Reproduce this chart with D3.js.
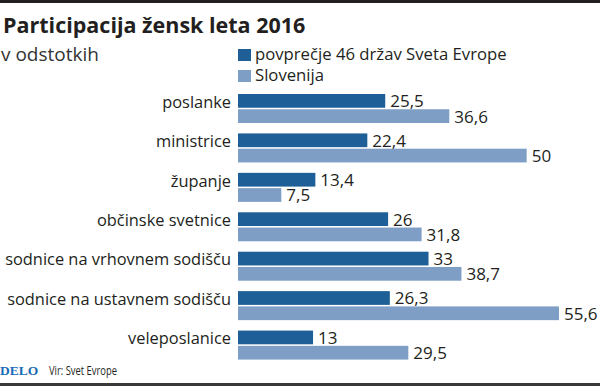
<!DOCTYPE html>
<html>
<head>
<meta charset="utf-8">
<script src="https://cdn.jsdelivr.net/npm/d3@7"></script>
<style>
    body { margin: 0; background: #fff; }
    svg { display: block; font-family: "Open Sans", sans-serif; }
</style>
</head>
<body>
<div id="chart"></div>
<script>
var categories = ['poslanke', 'ministrice', 'županje', 'občinske svetnice',
    'sodnice na vrhovnem sodišču', 'sodnice na ustavnem sodišču', 'veleposlanice'];
var europe = [25.5, 22.4, 13.4, 26, 33, 26.3, 13];
var slovenia = [36.6, 50, 7.5, 31.8, 38.7, 55.6, 29.5];
var seriesNames = ['povprečje 46 držav Sveta Evrope', 'Slovenija'];
var colors = ['#1d5f96', '#7f9ec6'];

var width = 600, height = 386;

var svg = d3.select('#chart').append('svg')
    .attr('width', width)
    .attr('height', height);

// top and bottom rules
svg.append('rect')
    .attr('x', 0).attr('y', 0)
    .attr('width', width).attr('height', 3)
    .style('fill', '#231f20');
svg.append('rect')
    .attr('x', 0).attr('y', 383)
    .attr('width', width).attr('height', 3)
    .style('fill', '#3a3a3a');

svg.append('text')
    .attr('x', 3)
    .attr('y', 33)
    .text('Participacija žensk leta 2016')
    .style('font-size', 21.5)
    .style('font-weight', 'bold')
    .style('fill', '#231f20');

svg.append('text')
    .attr('x', 1)
    .attr('y', 61)
    .text('v odstotkih')
    .style('font-size', 19)
    .style('fill', '#333');

// legend
seriesNames.forEach(function(d, i) {
    svg.append('rect')
        .attr('x', 238)
        .attr('y', 49 + i * 21)
        .attr('width', 13)
        .attr('height', 12)
        .style('fill', colors[i]);
    svg.append('text')
        .attr('x', 255)
        .attr('y', 60 + i * 21)
        .text(d)
        .style('font-size', 16.7)
        .style('fill', '#231f20');
});

var x = d3.scaleLinear().domain([0, 55.6]).range([238, 559]);
var y = d3.scaleBand().domain(categories).range([91, 367]).paddingInner(0);
var sub = d3.scaleBand().domain([0, 1]).range([3, 32]).paddingInner(0.1);

var groups = svg.selectAll('g.cat')
    .data(categories)
    .enter().append('g')
    .attr('class', 'cat')
    .attr('transform', function(d) { return 'translate(0,' + y(d) + ')'; });

groups.append('text')
    .attr('x', 231)
    .attr('y', sub(0) + sub.bandwidth())
    .attr('text-anchor', 'end')
    .text(function(d) { return d; })
    .style('font-size', 16.4)
    .style('fill', '#231f20');

[europe, slovenia].forEach(function(values, s) {
    groups.append('rect')
        .attr('x', x(0))
        .attr('y', sub(s))
        .attr('width', function(d, i) { return x(values[i]) - x(0); })
        .attr('height', sub.bandwidth())
        .style('fill', colors[s]);
    groups.append('text')
        .attr('x', function(d, i) { return x(values[i]) + 5; })
        .attr('y', sub(s) + sub.bandwidth() - 0.5)
        .text(function(d, i) { return String(values[i]).replace('.', ','); })
        .style('font-size', 17)
        .style('fill', '#231f20');
});

// footer
svg.append('text')
    .attr('x', 0)
    .attr('y', 375)
    .text('DELO')
    .style('font-family', '"Liberation Serif", serif')
    .style('font-weight', 'bold')
    .style('font-size', 13.5)
    .style('fill', '#1b6cb4');
svg.append('text')
    .attr('x', 49)
    .attr('y', 375)
    .attr('textLength', 68)
    .attr('lengthAdjust', 'spacingAndGlyphs')
    .text('Vir: Svet Evrope')
    .style('font-size', 12)
    .style('fill', '#231f20');
</script>
</body>
</html>
